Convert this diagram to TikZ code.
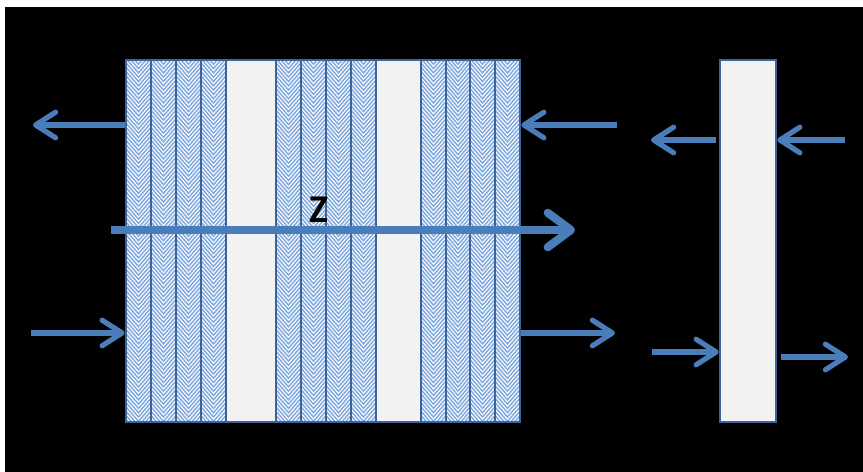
\documentclass[tikz,border=0pt]{standalone}
\usepackage{fontspec}
\setmainfont{Carlito}
\usetikzlibrary{arrows.meta}
\definecolor{flowblue}{RGB}{74,126,187}
\definecolor{edgeblue}{RGB}{60,100,152}
\definecolor{hatchblue}{RGB}{130,170,222}
\definecolor{paleslab}{RGB}{242,242,242}

\begin{document}
\begin{tikzpicture}[x=0.025cm, y=-0.025cm,
    flow/.style={draw=flowblue, line width=3.7pt, -{Straight Barb[length=5mm, width=6.4mm, round]}},
    bigflow/.style={draw=flowblue, line width=5.8pt, -{Straight Barb[length=5.8mm, width=8.6mm, round]}},
    plain/.style={fill=paleslab, draw=edgeblue, line width=1.8pt},
    hatched/.style={fill=white, draw=edgeblue, line width=1.8pt, path picture={
        \foreach \k in {-4,...,90}
          \draw[hatchblue, line width=1.05pt]
            ([yshift=-\k*1.075mm+3.6mm]path picture bounding box.north west) --
            ([yshift=-\k*1.075mm]path picture bounding box.north) --
            ([yshift=-\k*1.075mm+3.6mm]path picture bounding box.north east);
      }},
    block/.style={draw=edgeblue, line width=1.8pt, inner sep=0pt, minimum height=9.05cm}
  ]
    % Frame
    \useasboundingbox (0,0) rectangle (863,472);
    \fill[white] (0,0) rectangle (863,472);
    \fill[black] (5,7) rectangle (863,472);

    % Layers of the stack
    \foreach \a/\b in {126/151, 151/176, 176/201, 201/226, 276/301, 301/326, 326/351, 351/376,
                       421/446, 446/470, 470/495, 495/520}
      \path[hatched] (\a,60) rectangle (\b,422);
    \path[plain] (226,60) rectangle (276,422);
    \path[plain] (376,60) rectangle (421,422);
    \node[block, minimum width=9.85cm] (stack) at (323,241) {};

    % Single slab
    \node[block, fill=paleslab, minimum width=1.4cm] (slab) at (748,241) {};

    % Free ends
    \coordinate (outL) at (33,125);
    \coordinate (inR) at (617,125);
    \coordinate (inL) at (31,333);
    \coordinate (outR) at (615,333);
    \coordinate (zS) at (111,230);
    \coordinate (zE) at (575,230);
    \coordinate (sOutL) at (651,140);
    \coordinate (sInR) at (845,140);
    \coordinate (sInL) at (652,352);
    \coordinate (sOutR) at (848,357);

    % Arrows at the stack
    \draw[flow] (stack.west |- outL) -- (outL);
    \draw[flow] (inR) -- (inR -| stack.east);
    \draw[flow] (inL) -- (inL -| stack.west);
    \draw[flow] (stack.east |- outR) -- (outR);
    \draw[bigflow] (zS) -- (zE);
    \node[font=\bfseries\fontsize{28}{28}\selectfont] (zlabel) at (319,210) {Z};

    % Arrows at the slab
    \draw[flow, shorten <=2pt] (slab.west |- sOutL) -- (sOutL);
    \draw[flow] (sInR) -- (sInR -| slab.east);
    \draw[flow] (sInL) -- (sInL -| slab.west);
    \draw[flow, shorten <=3pt] (slab.east |- sOutR) -- (sOutR);
  \end{tikzpicture}
\end{document}
